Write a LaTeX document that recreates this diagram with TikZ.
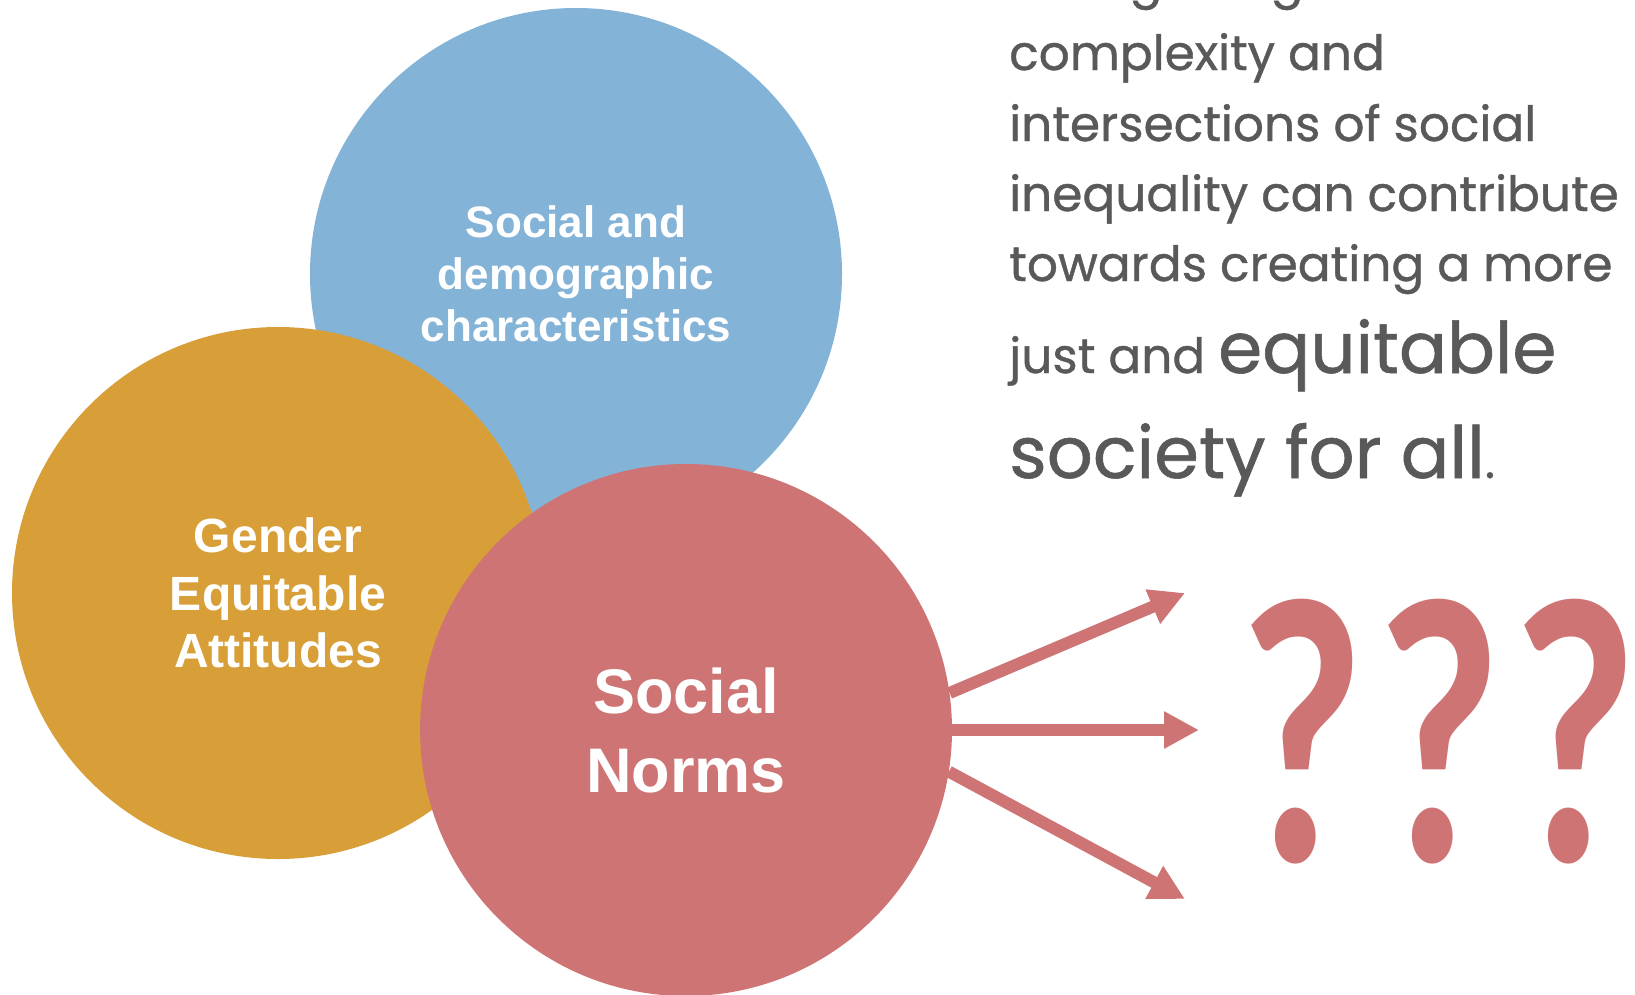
\documentclass[tikz,border=0pt]{standalone}
\usepackage{fontspec}
\usepackage{graphicx}
\usetikzlibrary{arrows.meta}
\newfontfamily\labelfont{Liberation Sans}
\newfontfamily\notefont[FakeBold=0.8]{Poppins}
\newfontfamily\qfont{Carlito}
\definecolor{sdblue}{HTML}{84B3D8}
\definecolor{georange}{HTML}{D89F38}
\definecolor{snred}{HTML}{CF7474}
\definecolor{notegray}{HTML}{595959}
\begin{document}
\begin{tikzpicture}[x=1pt,y=-1pt,
  bub/.style={circle,minimum size=532pt,inner sep=0pt,text=white,align=center},
  nt/.style={anchor=base west,inner sep=0pt,text=notegray,font=\notefont\fontsize{48.6}{60}\selectfont},
  qm/.style={inner sep=0pt,text=snred,font=\qfont\bfseries\fontsize{380}{380}\selectfont},
  outarr/.style={draw=snred,line width=12pt,-{Triangle[width=35pt,length=35pt]}}]
  \useasboundingbox (0,0) rectangle (1635,994);
  % three overlapping circles
  \node[bub,fill=sdblue,font=\labelfont\bfseries\fontsize{44}{52}\selectfont] (sdc) at (576,274){Social and\\demographic\\characteristics};
  \node[bub,fill=georange,font=\labelfont\bfseries\fontsize{48}{57.5}\selectfont] (gea) at (278,593){Gender\\Equitable\\Attitudes};
  \node[bub,fill=snred,font=\labelfont\bfseries\fontsize{63}{79}\selectfont] (sn) at (686,730){Social\\Norms};
  % text on the right
  \node[nt] (t0) at (1009,-3){Recognizing the};
  \node[nt] (t1) at (1009,70){complexity and};
  \node[nt] (t2) at (1009,141){intersections of social};
  \node[nt] (t3) at (1009,211){inequality can contribute};
  \node[nt] (t4) at (1009,281){towards creating a more};
  \node[nt] (t5) at (1009,373){just and {\fontsize{71}{80}\selectfont equitable}};
  \node[nt] (t6) at (1009,478){{\fontsize{72}{80}\selectfont society for all}.};
  % arrows
  \coordinate (tipa) at (1185,593);
  \coordinate (tipb) at (1199,730);
  \coordinate (tipc) at (1185,899);
  \draw[outarr] (sn.8.6) -- (tipa);
  \draw[outarr] (sn.east) -- (tipb);
  \draw[outarr] (sn.-9) -- (tipc);
  \node[qm] (q1) at (1302,732){\scalebox{0.72}[1]{?}};
  \node[qm] (q2) at (1439,732){\scalebox{0.72}[1]{?}};
  \node[qm] (q3) at (1575,732){\scalebox{0.72}[1]{?}};
\end{tikzpicture}
\end{document}
